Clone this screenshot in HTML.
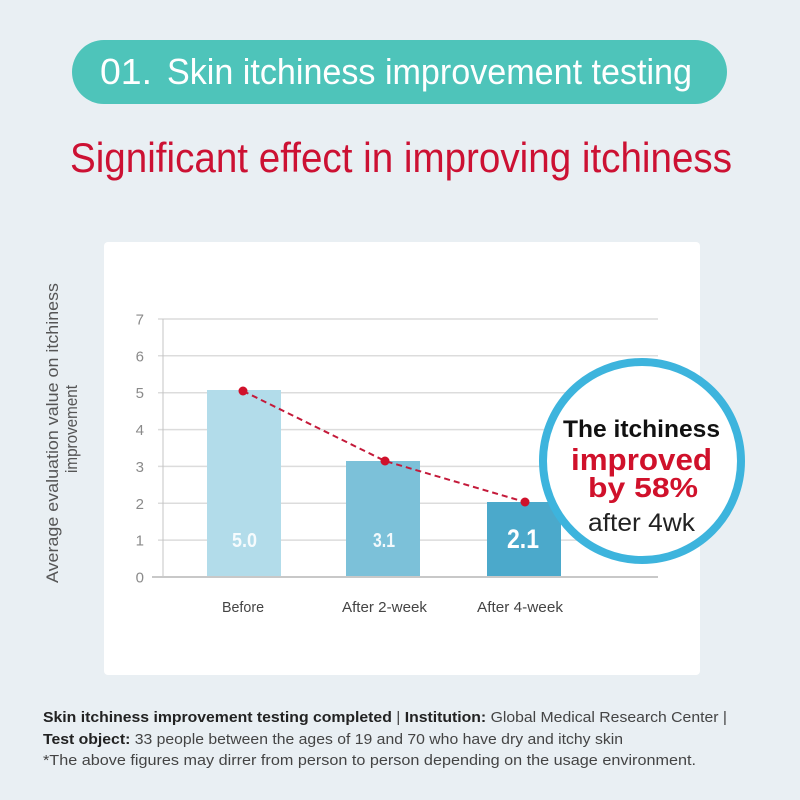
<!DOCTYPE html>
<html>
<head>
<meta charset="utf-8">
<style>
  html, body { margin:0; padding:0; background:#e9eff3; }
  body { width:800px; height:800px; overflow:hidden; }
  svg { display:block; font-family:"Liberation Sans", sans-serif; }
</style>
</head>
<body>
<svg width="800" height="800" viewBox="0 0 800 800" xmlns="http://www.w3.org/2000/svg">
  <rect x="0" y="0" width="800" height="800" fill="#e9eff3"/>

  <!-- Header pill -->
  <rect x="72" y="40" width="655" height="64" rx="32" fill="#4ec4ba"/>
  <text x="100" y="84" font-size="36" fill="#ffffff" textLength="52" lengthAdjust="spacingAndGlyphs">01.</text>
  <text x="167" y="84" font-size="36" fill="#ffffff" textLength="525" lengthAdjust="spacingAndGlyphs">Skin itchiness improvement testing</text>

  <!-- Title -->
  <text x="70" y="172" font-size="42" fill="#cc1133" textLength="662" lengthAdjust="spacingAndGlyphs">Significant effect in improving itchiness</text>

  <!-- Card -->
  <rect x="104" y="242" width="596" height="433" rx="4" fill="#ffffff"/>

  <!-- Y axis title -->
  <text transform="translate(58,433) rotate(-90)" text-anchor="middle" font-size="17" fill="#555555" textLength="300" lengthAdjust="spacingAndGlyphs">Average evaluation value on itchiness</text>
  <text transform="translate(77,429) rotate(-90)" text-anchor="middle" font-size="17" fill="#555555" textLength="88" lengthAdjust="spacingAndGlyphs">improvement</text>

  <!-- Grid lines -->
  <g stroke="#dcdcdc" stroke-width="1.5">
    <line x1="158" y1="319" x2="658" y2="319"/>
    <line x1="158" y1="355.8" x2="658" y2="355.8"/>
    <line x1="158" y1="392.7" x2="658" y2="392.7"/>
    <line x1="158" y1="429.6" x2="658" y2="429.6"/>
    <line x1="158" y1="466.4" x2="658" y2="466.4"/>
    <line x1="158" y1="503.3" x2="658" y2="503.3"/>
    <line x1="158" y1="540.1" x2="658" y2="540.1"/>
  </g>
  <line x1="163" y1="319" x2="163" y2="577" stroke="#c4c4c4" stroke-width="1"/>

  <!-- Tick labels -->
  <g font-size="15" fill="#8a8a8a" text-anchor="end">
    <text x="144" y="324.5">7</text>
    <text x="144" y="361.3">6</text>
    <text x="144" y="398.2">5</text>
    <text x="144" y="435.1">4</text>
    <text x="144" y="471.9">3</text>
    <text x="144" y="508.8">2</text>
    <text x="144" y="545.6">1</text>
    <text x="144" y="582.5">0</text>
  </g>

  <!-- Bars -->
  <rect x="207" y="390" width="74" height="187" fill="#b2dcea"/>
  <rect x="346" y="461" width="74" height="116" fill="#7cc1d9"/>
  <rect x="487" y="502" width="74" height="75" fill="#4ba9cb"/>

  <!-- Baseline -->
  <line x1="152" y1="577" x2="658" y2="577" stroke="#c8c8c8" stroke-width="2"/>

  <!-- Value labels -->
  <text x="244.5" y="547" font-size="20" font-weight="bold" fill="#ffffff" fill-opacity="0.88" text-anchor="middle" textLength="25" lengthAdjust="spacingAndGlyphs">5.0</text>
  <text x="384" y="547" font-size="20" font-weight="bold" fill="#ffffff" fill-opacity="0.9" text-anchor="middle" textLength="22" lengthAdjust="spacingAndGlyphs">3.1</text>
  <text x="523" y="548" font-size="27" font-weight="bold" fill="#ffffff" text-anchor="middle" textLength="32" lengthAdjust="spacingAndGlyphs">2.1</text>

  <!-- Category labels -->
  <g font-size="15" fill="#444444" text-anchor="middle">
    <text x="243" y="612" textLength="42" lengthAdjust="spacingAndGlyphs">Before</text>
    <text x="384.5" y="612" textLength="85" lengthAdjust="spacingAndGlyphs">After 2-week</text>
    <text x="520" y="612" textLength="86" lengthAdjust="spacingAndGlyphs">After 4-week</text>
  </g>

  <!-- Dashed trend line -->
  <polyline points="243,391 385,461 525,502" fill="none" stroke="#c41a3a" stroke-width="2" stroke-dasharray="6,4"/>
  <circle cx="243" cy="391" r="4.5" fill="#d0112b"/>
  <circle cx="385" cy="461" r="4.5" fill="#d0112b"/>
  <circle cx="525" cy="502" r="4.5" fill="#d0112b"/>

  <!-- Callout circle -->
  <circle cx="642" cy="461" r="99" fill="#ffffff" stroke="#3db4dd" stroke-width="8"/>
  <text x="641.5" y="437" font-size="24" font-weight="bold" fill="#111111" text-anchor="middle" textLength="157" lengthAdjust="spacingAndGlyphs">The itchiness</text>
  <text x="641.5" y="470" font-size="31" font-weight="bold" fill="#d0112b" text-anchor="middle" textLength="141" lengthAdjust="spacingAndGlyphs">improved</text>
  <text x="643" y="497" font-size="28" font-weight="bold" fill="#d0112b" text-anchor="middle" textLength="110" lengthAdjust="spacingAndGlyphs">by 58%</text>
  <text x="641.5" y="531" font-size="25" fill="#222222" text-anchor="middle" textLength="107" lengthAdjust="spacingAndGlyphs">after 4wk</text>

  <!-- Footer -->
  <g font-size="15" fill="#444444">
    <text x="43" y="722" textLength="684" lengthAdjust="spacingAndGlyphs"><tspan font-weight="bold" fill="#222222">Skin itchiness improvement testing completed</tspan> | <tspan font-weight="bold" fill="#222222">Institution:</tspan> Global Medical Research Center |</text>
    <text x="43" y="744" textLength="580" lengthAdjust="spacingAndGlyphs"><tspan font-weight="bold" fill="#222222">Test object:</tspan> 33 people between the ages of 19 and 70 who have dry and itchy skin</text>
    <text x="43" y="765" textLength="653" lengthAdjust="spacingAndGlyphs">*The above figures may dirrer from person to person depending on the usage environment.</text>
  </g>
</svg>
</body>
</html>
